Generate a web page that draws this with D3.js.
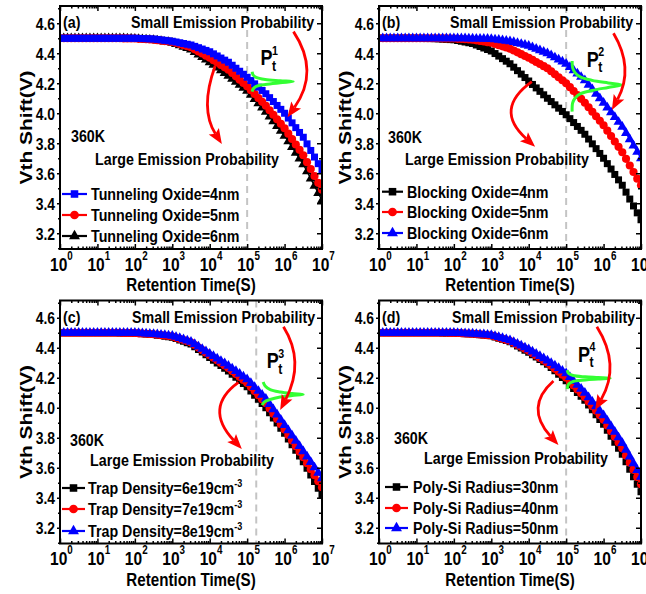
<!DOCTYPE html>
<html>
<head>
<meta charset="utf-8">
<script src="https://cdn.jsdelivr.net/npm/d3@7"></script>
<style>
  body { margin: 0; background: #fff; }
  text { font-family: "Liberation Sans", Arial, sans-serif; font-weight: bold; fill: #000; }
</style>
</head>
<body>
<svg width="646" height="594"></svg>
<script>
// sample grid, log10 of retention time (s)
const logTime = [
  0,0.1,0.2,0.3,0.4,0.5,0.6,0.7,0.8,0.9,
  1,1.1,1.2,1.3,1.4,1.5,1.6,1.7,1.8,1.9,
  2,2.1,2.2,2.3,2.4,2.5,2.6,2.7,2.8,2.9,
  3,3.1,3.2,3.3,3.4,3.5,3.6,3.7,3.8,3.9,
  4,4.1,4.2,4.3,4.4,4.5,4.6,4.7,4.8,4.9,
  5,5.1,5.2,5.3,5.4,5.5,5.6,5.7,5.8,5.9,
  6,6.1,6.2,6.3,6.4,6.5,6.6,6.7,6.8,6.9,
  7
];

// (a) tunneling oxide thickness
const tunnel4 = [
  4.5,4.5,4.5,4.5,4.5,4.5,4.5,4.5,4.5,4.5,
  4.5,4.5,4.5,4.5,4.5,4.5,4.5,4.5,4.5,4.5,
  4.5,4.499,4.498,4.497,4.496,4.495,4.492,4.489,4.486,4.483,
  4.48,4.475,4.47,4.465,4.46,4.455,4.446,4.437,4.428,4.419,
  4.41,4.396,4.382,4.368,4.354,4.34,4.32,4.3,4.28,4.26,
  4.24,4.218,4.196,4.174,4.152,4.13,4.104,4.078,4.052,4.026,
  4.0,3.968,3.936,3.904,3.872,3.84,3.796,3.752,3.708,3.664,
  3.62
];
const tunnel5 = [
  4.5,4.5,4.5,4.5,4.5,4.5,4.5,4.5,4.5,4.5,
  4.5,4.5,4.5,4.5,4.5,4.5,4.5,4.499,4.499,4.498,
  4.498,4.496,4.495,4.493,4.492,4.49,4.487,4.484,4.481,4.478,
  4.475,4.468,4.461,4.454,4.447,4.44,4.426,4.412,4.398,4.384,
  4.37,4.354,4.338,4.322,4.306,4.29,4.268,4.246,4.224,4.202,
  4.18,4.154,4.128,4.102,4.076,4.05,4.02,3.99,3.96,3.93,
  3.9,3.864,3.828,3.792,3.756,3.72,3.674,3.628,3.582,3.536,
  3.49
];
const tunnel6 = [
  4.5,4.5,4.5,4.5,4.5,4.5,4.5,4.5,4.5,4.5,
  4.5,4.5,4.5,4.5,4.5,4.5,4.499,4.499,4.498,4.498,
  4.497,4.495,4.493,4.492,4.49,4.488,4.484,4.481,4.477,4.474,
  4.47,4.461,4.452,4.443,4.434,4.425,4.408,4.391,4.374,4.357,
  4.34,4.322,4.304,4.286,4.268,4.25,4.23,4.21,4.19,4.17,
  4.15,4.122,4.094,4.066,4.038,4.01,3.978,3.946,3.914,3.882,
  3.85,3.812,3.774,3.736,3.698,3.66,3.612,3.564,3.516,3.468,
  3.42
];

// (b) blocking oxide thickness
const block4 = [
  4.5,4.5,4.5,4.5,4.5,4.5,4.5,4.5,4.5,4.5,
  4.5,4.499,4.499,4.498,4.498,4.497,4.496,4.494,4.493,4.491,
  4.49,4.485,4.48,4.475,4.47,4.465,4.455,4.445,4.435,4.425,
  4.415,4.398,4.381,4.364,4.347,4.33,4.307,4.284,4.261,4.238,
  4.215,4.192,4.169,4.146,4.123,4.1,4.078,4.056,4.034,4.012,
  3.99,3.964,3.938,3.912,3.886,3.86,3.828,3.796,3.764,3.732,
  3.7,3.664,3.628,3.592,3.556,3.52,3.474,3.428,3.382,3.336,
  3.29
];
const block5 = [
  4.5,4.5,4.5,4.5,4.5,4.5,4.5,4.5,4.5,4.5,
  4.5,4.5,4.5,4.5,4.5,4.5,4.5,4.499,4.499,4.498,
  4.498,4.496,4.495,4.493,4.492,4.49,4.486,4.482,4.478,4.474,
  4.47,4.462,4.454,4.446,4.438,4.43,4.418,4.406,4.394,4.382,
  4.37,4.356,4.342,4.328,4.314,4.3,4.28,4.26,4.24,4.22,
  4.2,4.174,4.148,4.122,4.096,4.07,4.04,4.01,3.98,3.95,
  3.92,3.884,3.848,3.812,3.776,3.74,3.696,3.652,3.608,3.564,
  3.52
];
const block6 = [
  4.5,4.5,4.5,4.5,4.5,4.5,4.5,4.5,4.5,4.5,
  4.5,4.5,4.5,4.5,4.5,4.5,4.5,4.5,4.5,4.5,
  4.5,4.5,4.499,4.499,4.498,4.498,4.497,4.497,4.496,4.496,
  4.495,4.492,4.489,4.486,4.483,4.48,4.474,4.468,4.462,4.456,
  4.45,4.44,4.43,4.42,4.41,4.4,4.386,4.372,4.358,4.344,
  4.33,4.308,4.286,4.264,4.242,4.22,4.19,4.16,4.13,4.1,
  4.07,4.038,4.006,3.974,3.942,3.91,3.868,3.826,3.784,3.742,
  3.7
];

// (c) trap density
const trap6 = [
  4.5,4.5,4.5,4.5,4.5,4.5,4.5,4.5,4.5,4.5,
  4.5,4.5,4.5,4.5,4.5,4.5,4.499,4.499,4.498,4.498,
  4.497,4.495,4.493,4.492,4.49,4.488,4.484,4.481,4.477,4.474,
  4.47,4.461,4.452,4.443,4.434,4.425,4.407,4.389,4.371,4.353,
  4.335,4.317,4.299,4.281,4.263,4.245,4.224,4.203,4.182,4.161,
  4.14,4.112,4.084,4.056,4.028,4.0,3.966,3.932,3.898,3.864,
  3.83,3.792,3.754,3.716,3.678,3.64,3.596,3.552,3.508,3.464,
  3.42
];
const trap7 = [
  4.5,4.5,4.5,4.5,4.5,4.5,4.5,4.5,4.5,4.5,
  4.5,4.5,4.5,4.5,4.5,4.5,4.5,4.499,4.499,4.498,
  4.498,4.496,4.495,4.493,4.492,4.49,4.487,4.484,4.481,4.478,
  4.475,4.467,4.459,4.451,4.443,4.435,4.418,4.401,4.384,4.367,
  4.35,4.333,4.316,4.299,4.282,4.265,4.245,4.225,4.205,4.185,
  4.165,4.138,4.111,4.084,4.057,4.03,3.995,3.96,3.925,3.89,
  3.855,3.818,3.781,3.744,3.707,3.67,3.63,3.59,3.55,3.51,
  3.47
];
const trap8 = [
  4.5,4.5,4.5,4.5,4.5,4.5,4.5,4.5,4.5,4.5,
  4.5,4.5,4.5,4.5,4.5,4.5,4.5,4.5,4.5,4.499,
  4.499,4.498,4.496,4.495,4.493,4.492,4.49,4.487,4.485,4.482,
  4.48,4.472,4.464,4.456,4.448,4.44,4.424,4.408,4.392,4.376,
  4.36,4.344,4.328,4.312,4.296,4.28,4.262,4.244,4.226,4.208,
  4.19,4.164,4.138,4.112,4.086,4.06,4.025,3.99,3.955,3.92,
  3.885,3.85,3.815,3.78,3.745,3.71,3.674,3.638,3.602,3.566,
  3.53
];

// (d) poly-Si radius
const radius30 = [
  4.5,4.5,4.5,4.5,4.5,4.5,4.5,4.5,4.5,4.5,
  4.5,4.5,4.5,4.5,4.5,4.5,4.5,4.499,4.499,4.498,
  4.498,4.497,4.496,4.494,4.493,4.492,4.49,4.487,4.485,4.482,
  4.48,4.472,4.464,4.456,4.448,4.44,4.426,4.412,4.398,4.384,
  4.37,4.354,4.338,4.322,4.306,4.29,4.268,4.246,4.224,4.202,
  4.18,4.154,4.128,4.102,4.076,4.05,4.018,3.986,3.954,3.922,
  3.89,3.85,3.81,3.77,3.73,3.69,3.64,3.59,3.54,3.49,
  3.44
];
const radius40 = [
  4.5,4.5,4.5,4.5,4.5,4.5,4.5,4.5,4.5,4.5,
  4.5,4.5,4.5,4.5,4.5,4.5,4.5,4.5,4.5,4.499,
  4.499,4.498,4.497,4.495,4.494,4.493,4.491,4.489,4.486,4.484,
  4.482,4.475,4.467,4.46,4.452,4.445,4.432,4.419,4.406,4.393,
  4.38,4.364,4.348,4.332,4.316,4.3,4.28,4.26,4.24,4.22,
  4.2,4.174,4.148,4.122,4.096,4.07,4.04,4.01,3.98,3.95,
  3.92,3.882,3.844,3.806,3.768,3.73,3.682,3.634,3.586,3.538,
  3.49
];
const radius50 = [
  4.5,4.5,4.5,4.5,4.5,4.5,4.5,4.5,4.5,4.5,
  4.5,4.5,4.5,4.5,4.5,4.5,4.5,4.5,4.5,4.5,
  4.499,4.498,4.497,4.496,4.495,4.494,4.492,4.49,4.489,4.487,
  4.485,4.478,4.471,4.464,4.457,4.45,4.438,4.426,4.414,4.402,
  4.39,4.375,4.36,4.345,4.33,4.315,4.298,4.281,4.264,4.247,
  4.23,4.204,4.178,4.152,4.126,4.1,4.07,4.04,4.01,3.98,
  3.95,3.913,3.876,3.839,3.802,3.765,3.72,3.675,3.63,3.585,
  3.54
];

// green trap-level distributions, [log10 t, V]
const distA = [[5.134,4.277],[5.16,4.255],[5.241,4.239],[5.481,4.225],[5.882,4.217],[6.23,4.211],
               [5.882,4.203],[5.481,4.192],[5.241,4.179],[5.16,4.162],[5.134,4.144]];
const distB = [[5.16,4.349],[5.174,4.302],[5.241,4.269],[5.374,4.242],[5.695,4.219],[6.123,4.202],[6.489,4.189],
               [6.123,4.172],[5.695,4.152],[5.374,4.129],[5.241,4.102],[5.174,4.069],[5.16,4.011]];
const distC = [[5.428,4.171],[5.481,4.145],[5.615,4.121],[5.882,4.105],[6.203,4.095],[6.497,4.089],
               [6.203,4.081],[5.882,4.071],[5.615,4.055],[5.455,4.038],[5.401,4.018]];
const distD = [[5.027,4.251],[5.067,4.228],[5.187,4.215],[5.508,4.206],[5.856,4.201],[6.176,4.196],
               [5.856,4.191],[5.508,4.185],[5.187,4.175],[5.067,4.158],[5.027,4.125]];

// red curved arrows: start, bend, tip  [log10 t, V]
const arrowsA = [[[4.144,4.315],[3.73,4.029],[4.324,3.795]], [[6.238,4.544],[6.944,4.279],[6.078,3.973]]];
const arrowsB = [[[4.083,4.211],[3.056,4.027],[4.171,3.777]], [[6.265,4.533],[6.821,4.299],[6.222,4.022]]];
const arrowsC = [[[4.767,4.169],[3.834,4.0],[4.858,3.725]], [[5.971,4.54],[6.551,4.307],[5.882,3.985]]];
const arrowsD = [[[4.66,4.178],[3.882,4.005],[4.794,3.751]], [[5.821,4.54],[6.464,4.285],[5.775,3.985]]];

const yTicks = [3.2, 3.4, 3.6, 3.8, 4.0, 4.2, 4.4, 4.6];
const yMinorTicks = [3.1, 3.3, 3.5, 3.7, 3.9, 4.1, 4.3, 4.5, 4.7];
const xTicks = [1, 1e1, 1e2, 1e3, 1e4, 1e5, 1e6, 1e7];

const BLACK = "#000000", RED = "#ff0000", BLUE = "#0000ff", GREEN = "#33ff33";
const SQ = 0.82;   // the original lettering is squeezed horizontally
const FS = 17.4;   // annotation font size

const panels = [
  {tag: "(a)", at: [0, 0], dash: 1e5, n: "1", P: [260.5, 65],
   small: 131, k360: [71, 141.5], large: [95, 164.5],
   legend: {x0: 62, x1: 87, tx: 91, rows: [194, 215, 236]},
   dist: distA, arrows: arrowsA,
   series: [
     {name: ["Tunneling Oxide=4nm"], values: tunnel4, color: BLUE, shape: d3.symbolSquare},
     {name: ["Tunneling Oxide=5nm"], values: tunnel5, color: RED, shape: d3.symbolCircle},
     {name: ["Tunneling Oxide=6nm"], values: tunnel6, color: BLACK, shape: d3.symbolTriangle}]},
  {tag: "(b)", at: [319, 0], dash: 1e5, n: "2", P: [267.7, 66.7],
   small: 131, k360: [69, 143], large: [86, 165],
   legend: {x0: 63, x1: 84, tx: 88, rows: [191.7, 212, 233]},
   dist: distB, arrows: arrowsB,
   series: [
     {name: ["Blocking Oxide=4nm"], values: block4, color: BLACK, shape: d3.symbolSquare},
     {name: ["Blocking Oxide=5nm"], values: block5, color: RED, shape: d3.symbolCircle},
     {name: ["Blocking Oxide=6nm"], values: block6, color: BLUE, shape: d3.symbolTriangle}]},
  {tag: "(c)", at: [0, 294.5], dash: 1.75e5, n: "3", P: [266.7, 73.8],
   small: 132, k360: [70, 151], large: [90, 171.5],
   legend: {x0: 62, x1: 85, tx: 88, rows: [193.5, 214.5, 236.5]},
   dist: distC, arrows: arrowsC,
   series: [
     {name: ["Trap Density=6e19cm", "-3"], values: trap6, color: BLACK, shape: d3.symbolSquare},
     {name: ["Trap Density=7e19cm", "-3"], values: trap7, color: RED, shape: d3.symbolCircle},
     {name: ["Trap Density=8e19cm", "-3"], values: trap8, color: BLUE, shape: d3.symbolTriangle}]},
  {tag: "(d)", at: [319, 294.5], dash: 1e5, n: "4", P: [259, 67.2],
   small: 133, k360: [75, 149], large: [105, 169],
   legend: {x0: 66, x1: 89, tx: 94, rows: [192.5, 213.5, 233.5]},
   dist: distD, arrows: arrowsD,
   series: [
     {name: ["Poly-Si Radius=30nm"], values: radius30, color: BLACK, shape: d3.symbolSquare},
     {name: ["Poly-Si Radius=40nm"], values: radius40, color: RED, shape: d3.symbolCircle},
     {name: ["Poly-Si Radius=50nm"], values: radius50, color: BLUE, shape: d3.symbolTriangle}]}
];

const drawRank = {[BLACK]: 0, [RED]: 1, [BLUE]: 2};
const symbolSize = s => s === d3.symbolSquare ? 49 : s === d3.symbolCircle ? 52 : 44;

const svg = d3.select("svg");
const plotL = 60, plotR = 322, plotT = 6, plotB = 249;

const x = d3.scaleLog().domain([1, 1e7]).range([plotL, plotR]);
const y = d3.scaleLinear().domain([3.095, 4.715]).range([plotB, plotT]);
const xMinor = x.ticks().filter(d => !xTicks.includes(d));

const label = (g, px, py, txt, size, anchor) =>
  g.append("text")
    .attr("transform", "translate(" + px + "," + py + ") scale(" + SQ + ",1)")
    .attr("text-anchor", anchor || "start")
    .attr("font-size", size)
    .text(txt);

const plain = g => {
  g.select(".domain").remove();
  g.attr("font-family", null).attr("font-size", null);
  g.selectAll("line").attr("stroke-width", 1.5);
};

panels.forEach((p, pi) => {
  const g = svg.append("g").attr("transform", "translate(" + p.at[0] + "," + p.at[1] + ")");

  g.append("clipPath").attr("id", "clip" + pi)
    .append("rect").attr("x", plotL).attr("y", plotT)
    .attr("width", plotR - plotL).attr("height", plotB - plotT);

  // dashed reference time
  g.append("line")
    .attr("x1", x(p.dash)).attr("x2", x(p.dash))
    .attr("y1", plotT).attr("y2", plotB)
    .attr("stroke", "#c4c4c4").attr("stroke-width", 2)
    .attr("stroke-dasharray", "7,5");

  const plot = g.append("g").attr("clip-path", "url(#clip" + pi + ")");
  const line = d3.line()
    .x((d, i) => x(Math.pow(10, logTime[i])))
    .y(d => y(d));

  p.series.slice().sort((a, b) => drawRank[a.color] - drawRank[b.color]).forEach(s => {
    plot.append("path")
      .attr("d", line(s.values))
      .attr("fill", "none")
      .attr("stroke", s.color)
      .attr("stroke-width", 1.5);
    plot.append("g").selectAll("path")
      .data(s.values).enter()
      .append("path")
      .attr("transform", (d, i) => "translate(" + x(Math.pow(10, logTime[i])) + "," + y(d) + ")")
      .attr("d", d3.symbol().type(s.shape).size(symbolSize(s.shape)))
      .attr("fill", s.color);
  });

  // axes
  const yLab = g.append("g").attr("transform", "translate(" + plotL + ",0)")
    .call(d3.axisLeft(y).tickValues(yTicks).tickSize(3).tickFormat(d3.format(".1f")));
  plain(yLab);
  yLab.selectAll("text")
    .attr("x", 0).attr("dy", "0.35em")
    .attr("font-size", 17)
    .attr("transform", "translate(-5,0) scale(" + SQ + ",1)");

  const ticks = [
    [d3.axisLeft(y).tickValues(yMinorTicks).tickSize(2), plotL, 0],
    [d3.axisRight(y).tickValues(yTicks).tickSize(-5), plotR, 0],
    [d3.axisRight(y).tickValues(yMinorTicks).tickSize(-3), plotR, 0],
    [d3.axisBottom(x).tickValues(xTicks).tickSize(-5), 0, plotB],
    [d3.axisBottom(x).tickValues(xMinor).tickSize(-2.5), 0, plotB],
    [d3.axisTop(x).tickValues(xTicks).tickSize(-5), 0, plotT],
    [d3.axisTop(x).tickValues(xMinor).tickSize(-2.5), 0, plotT]
  ];
  ticks.forEach(([ax, tx, ty]) => {
    const a = g.append("g").attr("transform", "translate(" + tx + "," + ty + ")")
      .call(ax.tickFormat(""));
    plain(a);
    a.selectAll("text").remove();
  });

  xTicks.forEach(t => {
    const tl = label(g, x(t) - 10, plotB + 21.5, "10", 19);
    tl.append("tspan").attr("dy", -11).attr("font-size", 12).text(Math.round(Math.log10(t)));
  });

  g.append("rect")
    .attr("x", plotL).attr("y", plotT)
    .attr("width", plotR - plotL).attr("height", plotB - plotT)
    .attr("fill", "none").attr("stroke", "#000").attr("stroke-width", 2);

  // axis titles
  label(g, (plotL + plotR) / 2, 291, "Retention Time(S)", 18.5, "middle");
  g.append("text")
    .attr("transform", "translate(32," + (plotT + plotB) / 2 + ") scale(" + SQ + ",1) rotate(-90)")
    .attr("text-anchor", "middle")
    .attr("font-size", 21)
    .text("Vth Shift(V)");

  // green distribution
  g.append("path")
    .attr("d", d3.line()
      .x(d => x(Math.pow(10, d[0])))
      .y(d => y(d[1]))
      .curve(d3.curveCatmullRom)(p.dist))
    .attr("fill", "none").attr("stroke", GREEN).attr("stroke-width", 3);

  // red arrows
  p.arrows.forEach(a => {
    const [p0, c, p2] = a.map(d => [x(Math.pow(10, d[0])), y(d[1])]);
    const vx = p2[0] - c[0], vy = p2[1] - c[1], len = Math.hypot(vx, vy);
    const ux = vx / len, uy = vy / len, hl = 15, hw = 6;
    const b = [p2[0] - ux * hl, p2[1] - uy * hl];
    const path = d3.path();
    path.moveTo(p0[0], p0[1]);
    path.quadraticCurveTo(c[0], c[1], b[0] + ux * 3, b[1] + uy * 3);
    g.append("path").attr("d", path.toString())
      .attr("fill", "none").attr("stroke", RED).attr("stroke-width", 2.8);
    g.append("path")
      .attr("d", "M" + p2[0] + "," + p2[1] +
                 "L" + (b[0] - uy * hw) + "," + (b[1] + ux * hw) +
                 "L" + (b[0] + ux * 3) + "," + (b[1] + uy * 3) +
                 "L" + (b[0] + uy * hw) + "," + (b[1] - ux * hw) + "Z")
      .attr("fill", RED);
  });

  // texts
  label(g, 63, 28, p.tag, FS);
  label(g, p.small, 28, "Small Emission Probability", FS);
  label(g, p.k360[0], p.k360[1], "360K", FS);
  label(g, p.large[0], p.large[1], "Large Emission Probability", FS);
  label(g, p.P[0], p.P[1], "P", 22);
  label(g, p.P[0] + 11.5, p.P[1] - 10.5, p.n, 13);
  label(g, p.P[0] + 11.5, p.P[1] + 5.5, "t", 15);

  // legend
  p.series.forEach((s, k) => {
    const ly = p.legend.rows[k];
    g.append("line")
      .attr("x1", p.legend.x0).attr("x2", p.legend.x1)
      .attr("y1", ly).attr("y2", ly)
      .attr("stroke", s.color).attr("stroke-width", 2.2);
    g.append("path")
      .attr("transform", "translate(" + (p.legend.x0 + p.legend.x1) / 2 + "," + ly + ")")
      .attr("d", d3.symbol().type(s.shape).size(symbolSize(s.shape) + 8)())
      .attr("fill", s.color);
    const t = label(g, p.legend.tx, ly + 6, s.name[0], FS);
    if (s.name[1]) t.append("tspan").attr("dy", -7).attr("font-size", 11).text(s.name[1]);
  });
});
</script>
</body>
</html>
